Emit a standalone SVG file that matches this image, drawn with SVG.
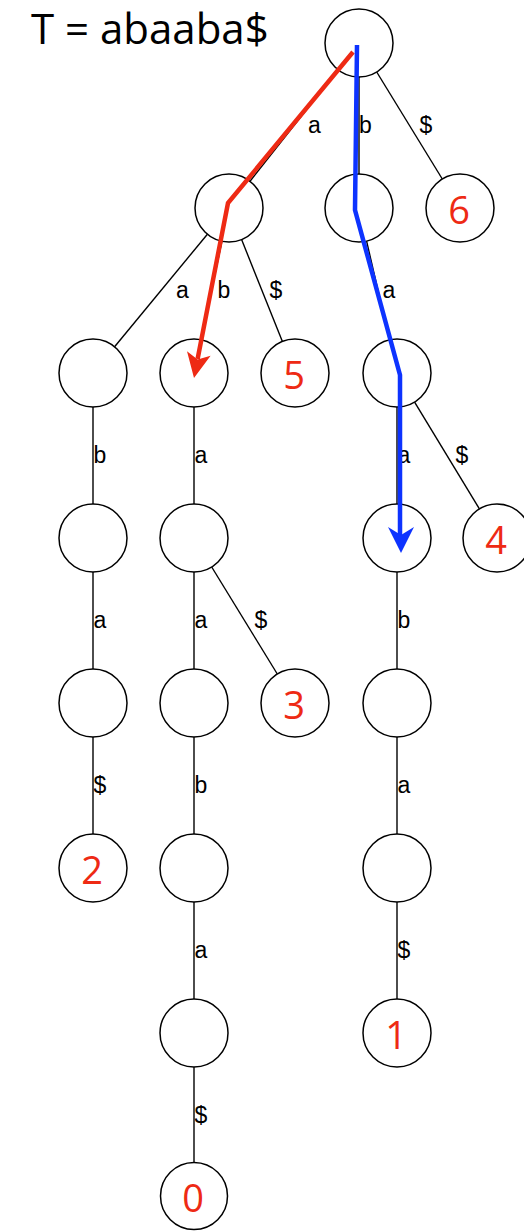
<svg xmlns="http://www.w3.org/2000/svg" width="524" height="1231" viewBox="0 0 524 1231">
<style>
.n{fill:#fff;stroke:#000;stroke-width:1.5}
.e{stroke:#000;stroke-width:1.4;fill:none}
.l{font-family:"Liberation Sans",Arial,sans-serif;font-size:23px;fill:#000;text-anchor:middle}
.num{font-family:"Open Sans",sans-serif;font-size:38px;fill:#EE2A14;text-anchor:middle}
.t{font-family:"Open Sans",sans-serif;font-size:42px;fill:#000}
</style>
<rect width="524" height="1231" fill="#fff"/>
<text class="t" x="31" y="44">T = abaaba$</text>
<g id="connectors">
<line class="e" x1="338" y1="69.7" x2="250" y2="181.3"/>
<line class="e" x1="359" y1="77" x2="359" y2="174"/>
<line class="e" x1="376.7" y1="72" x2="442.3" y2="179"/>
<line class="e" x1="207.4" y1="234.2" x2="114.6" y2="346.8"/>
<line class="e" x1="221.9" y1="241.3" x2="201.1" y2="339.7"/>
<line class="e" x1="241.6" y1="239.6" x2="282.4" y2="341.4"/>
<line class="e" x1="366.6" y1="241.1" x2="389.4" y2="339.9"/>
<line class="e" x1="93" y1="407" x2="93" y2="504"/>
<line class="e" x1="194" y1="407" x2="194" y2="504"/>
<line class="e" x1="397" y1="407" x2="397" y2="504"/>
<line class="e" x1="414.6" y1="402.1" x2="479.4" y2="508.9"/>
<line class="e" x1="93" y1="572" x2="93" y2="669"/>
<line class="e" x1="194" y1="572" x2="194" y2="669"/>
<line class="e" x1="211.7" y1="567" x2="277.3" y2="674"/>
<line class="e" x1="397" y1="572" x2="397" y2="669"/>
<line class="e" x1="93" y1="737" x2="93" y2="834"/>
<line class="e" x1="194" y1="737" x2="194" y2="834"/>
<line class="e" x1="397" y1="737" x2="397" y2="834"/>
<line class="e" x1="194" y1="902" x2="194" y2="999"/>
<line class="e" x1="397" y1="902" x2="397" y2="999"/>
<line class="e" x1="194" y1="1067" x2="194" y2="1163"/>
<text class="l" x="314.5" y="133">a</text>
<text class="l" x="365.5" y="133">b</text>
<text class="l" x="426" y="133">$</text>
<text class="l" x="182.5" y="298">a</text>
<text class="l" x="224" y="298">b</text>
<text class="l" x="276" y="298">$</text>
<text class="l" x="389" y="298">a</text>
<text class="l" x="100" y="463">b</text>
<text class="l" x="201" y="463">a</text>
<text class="l" x="404" y="463">a</text>
<text class="l" x="462" y="463">$</text>
<text class="l" x="100" y="628">a</text>
<text class="l" x="201" y="628">a</text>
<text class="l" x="261" y="628">$</text>
<text class="l" x="404" y="628">b</text>
<text class="l" x="100" y="793">$</text>
<text class="l" x="201" y="793">b</text>
<text class="l" x="404" y="793">a</text>
<text class="l" x="201" y="958">a</text>
<text class="l" x="404" y="958">$</text>
<text class="l" x="201" y="1123">$</text>
</g>
<g id="root"><circle class="n" cx="359" cy="43" r="34"/></g>
<g id="n-a"><circle class="n" cx="229" cy="208" r="34"/></g>
<g id="n-b"><circle class="n" cx="359" cy="208" r="34"/></g>
<g id="leaf6"><circle class="n" cx="460" cy="208" r="34"/><text class="num" x="459" y="224">6</text></g>
<g id="n-aa"><circle class="n" cx="93" cy="373" r="34"/></g>
<g id="n-ab"><circle class="n" cx="194" cy="373" r="34"/></g>
<g id="leaf5"><circle class="n" cx="295" cy="373" r="34"/><text class="num" x="294" y="389">5</text></g>
<g id="n-ba"><circle class="n" cx="397" cy="373" r="34"/></g>
<g id="n-aab"><circle class="n" cx="93" cy="538" r="34"/></g>
<g id="n-aba"><circle class="n" cx="194" cy="538" r="34"/></g>
<g id="n-baa"><circle class="n" cx="397" cy="538" r="34"/></g>
<g id="leaf4"><circle class="n" cx="497" cy="538" r="34"/><text class="num" x="496" y="554">4</text></g>
<g id="n-aaba"><circle class="n" cx="93" cy="703" r="34"/></g>
<g id="n-abaa"><circle class="n" cx="194" cy="703" r="34"/></g>
<g id="leaf3"><circle class="n" cx="295" cy="703" r="34"/><text class="num" x="294" y="719">3</text></g>
<g id="n-baab"><circle class="n" cx="397" cy="703" r="34"/></g>
<g id="leaf2"><circle class="n" cx="93" cy="868" r="34"/><text class="num" x="92" y="884">2</text></g>
<g id="n-abaab"><circle class="n" cx="194" cy="868" r="34"/></g>
<g id="n-baaba"><circle class="n" cx="397" cy="868" r="34"/></g>
<g id="n-abaaba"><circle class="n" cx="194" cy="1033" r="34"/></g>
<g id="leaf1"><circle class="n" cx="397" cy="1033" r="34"/><text class="num" x="396" y="1049">1</text></g>
<g id="leaf0"><circle class="n" cx="194" cy="1196" r="33.5"/><text class="num" x="193" y="1212">0</text></g>
<g id="paths">
<polyline points="353,52 228,203 197.6,359" fill="none" stroke="#EE2A14" stroke-width="4.5"/>
<polygon points="194,378 187,351.2 197.6,359.4 210.6,355.8" fill="#EE2A14"/>
<polyline points="357,45 355,210 400,375 400,536" fill="none" stroke="#0D33FF" stroke-width="4.5"/>
<polygon points="401,553 388,527 401,535 414,527" fill="#0D33FF"/>
</g>
</svg>
